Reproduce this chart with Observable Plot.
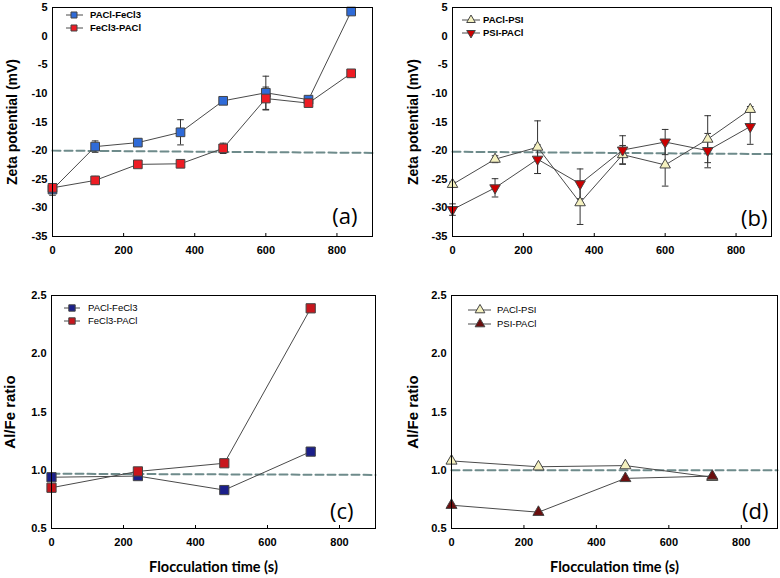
<!DOCTYPE html>
<html>
<head>
<meta charset="utf-8">
<script src="https://cdn.jsdelivr.net/npm/d3@7"></script>
<script src="https://cdn.jsdelivr.net/npm/@observablehq/plot@0.6"></script>
<style>
  html, body { margin: 0; padding: 0; background: #fff; }
  #root { position: relative; width: 780px; height: 578px; overflow: hidden; background: #fff; }
  .panel { position: absolute; }
  .legend { position: absolute; left: 0; top: 0; pointer-events: none; }
</style>
</head>
<body>
<div id="root"></div>
<script>
// ---------- data ----------
const zetaTime = [0, 120, 240, 360, 480, 600, 720, 840];
const zetaPaclFecl3 = [-26.8, -19.3, -18.6, -16.8, -11.3, -9.9, -11.1, 4.3];
const zetaPaclFecl3Err = [1.0, 1.0, 0.6, 2.2, 0.3, 2.9, 0.3, 0.3];
const zetaFecl3Pacl = [-26.5, -25.2, -22.4, -22.3, -19.6, -10.9, -11.7, -6.5];
const zetaFecl3PaclErr = [0.5, 0.7, 0.3, 0.3, 0.9, 2.0, 0.3, 0.3];

const zetaPaclPsi = [-25.9, -21.5, -19.4, -29.1, -20.7, -22.5, -18.0, -12.8];
const zetaPaclPsiErr = [0.4, 0.6, 4.6, 3.8, 1.6, 3.7, 4.1, 0.5];
const zetaPsiPacl = [-30.3, -26.5, -21.5, -25.8, -19.9, -18.5, -20.0, -15.8];
const zetaPsiPaclErr = [1.0, 1.6, 2.5, 2.6, 2.5, 2.2, 3.0, 3.1];

const ratioTime = [0, 240, 480, 720];
const ratioPaclFecl3 = [0.94, 0.95, 0.83, 1.16];
const ratioFecl3Pacl = [0.85, 0.99, 1.06, 2.39];
const ratioPaclPsi = [1.08, 1.03, 1.04, 0.94];
const ratioPsiPacl = [0.70, 0.64, 0.93, 0.95];

// reference (dashed) lines: [time, value] at both ends
const refA = [[0, -20.0], [900, -20.4]];
const refB = [[0, -20.2], [900, -20.6]];
const refC = [[0, 0.97], [900, 0.96]];
const refD = [[0, 1.0], [900, 1.0]];

const xTicks = [0, 200, 400, 600, 800];
const zetaTicks = [5, 0, -5, -10, -15, -20, -25, -30, -35];
const ratioTicks = [0.5, 1.0, 1.5, 2.0, 2.5];

// ---------- helpers ----------
const rows = (t, v, e) => t.map((x, i) => ({t: x, v: v[i], e: e ? e[i] : 0}));
const capSymbol = {
  draw(context, size) {
    const w = Math.sqrt(size / Math.PI);
    context.moveTo(-w, 0);
    context.lineTo(w, 0);
  }
};
const LINE = "#4a4a4a";
const DASH = "#6e8b8b";

function seriesMarks(data, {err = false}) {
  const marks = [];
  marks.push(Plot.line(data, {x: "t", y: "v", stroke: LINE, strokeWidth: 1}));
  if (err) {
    marks.push(Plot.ruleX(data, {x: "t", y1: d => d.v - d.e, y2: d => d.v + d.e, stroke: "#333", strokeWidth: 1}));
    marks.push(Plot.dot(data, {x: "t", y: d => d.v + d.e, symbol: capSymbol, r: 3.3, stroke: "#333", strokeWidth: 1}));
    marks.push(Plot.dot(data, {x: "t", y: d => d.v - d.e, symbol: capSymbol, r: 3.3, stroke: "#333", strokeWidth: 1}));
  }
  return marks;
}
function markerMarks(data, {symbol, r, fill, rotate = 0}) {
  return Plot.dot(data, {x: "t", y: "v", symbol, r, fill, stroke: "#444", strokeWidth: 1, rotate});
}

function panel({left, top, width, height, margins, yDomain, yTicks, yFormat, yLabel, yLabelDx, yLabelSize, xLabel, tag, tagDx, tagDy, ref, series, errors}) {
  const [mt, mr, mb, ml] = margins;
  const marks = [
    Plot.line(ref, {x: d => d[0], y: d => d[1], stroke: DASH, strokeWidth: 2, strokeDasharray: "8,4"}),
  ];
  for (const s of series) marks.push(...seriesMarks(s.data, {err: errors}));
  for (const s of series) marks.push(markerMarks(s.data, s));
  marks.push(
    Plot.frame({stroke: "#000", strokeWidth: 1}),
    Plot.axisX({ticks: xTicks, tickSize: -3, tickPadding: 13, tickFormat: d => String(d), label: null,
      fontSize: 11, fontWeight: "bold"}),
    Plot.axisY({ticks: yTicks, tickSize: 0, tickPadding: 5, tickFormat: yFormat, label: null,
      fontSize: 11, fontWeight: "bold"}),
    Plot.text([yLabel], {text: d => d, frameAnchor: "left", textAnchor: "middle", lineAnchor: "middle",
      dx: yLabelDx, rotate: -90, fontSize: yLabelSize, fontWeight: "bold", fill: "#000"}),
    Plot.text([tag], {text: d => d, frameAnchor: "bottom-right", textAnchor: "end", lineAnchor: "bottom",
      dx: tagDx, dy: tagDy, fontSize: 22, fontFamily: "Open Sans", fill: "#000"})
  );
  if (xLabel) {
    marks.push(Plot.text([xLabel], {text: d => d, frameAnchor: "bottom", lineAnchor: "middle", dy: 39,
      fontSize: 14.5, fontWeight: "bold", fontFamily: "Lato", fill: "#000"}));
  }
  const chart = Plot.plot({
    width, height,
    marginTop: mt, marginRight: mr, marginBottom: mb, marginLeft: ml,
    style: {fontFamily: "'Liberation Sans', Arial, sans-serif", color: "#000", background: "#fff", overflow: "visible"},
    x: {domain: [0, 900]},
    y: {domain: yDomain},
    marks
  });
  const div = document.createElement("div");
  div.className = "panel";
  div.style.left = left + "px";
  div.style.top = top + "px";
  div.appendChild(chart);
  document.getElementById("root").appendChild(div);
  return div;
}

// legend drawn as small inline svg overlay
function legend(items, {x0, x1, xm, ys, xt, size, bold, fontSize}) {
  const ns = "http://www.w3.org/2000/svg";
  const svg = document.createElementNS(ns, "svg");
  svg.setAttribute("class", "legend");
  svg.setAttribute("width", 780);
  svg.setAttribute("height", 578);
  svg.style.position = "absolute";
  items.forEach((it, i) => {
    const y = ys[i];
    const line = document.createElementNS(ns, "line");
    line.setAttribute("x1", x0); line.setAttribute("x2", x1);
    line.setAttribute("y1", y); line.setAttribute("y2", y);
    line.setAttribute("stroke", LINE); line.setAttribute("stroke-width", 1);
    svg.appendChild(line);
    const p = document.createElementNS(ns, "path");
    const sym = it.symbol === "square" ? d3.symbolSquare : d3.symbolTriangle;
    p.setAttribute("d", d3.symbol(sym, size * size * Math.PI)());
    p.setAttribute("transform", `translate(${xm},${y}) rotate(${it.rotate || 0})`);
    p.setAttribute("fill", it.fill); p.setAttribute("stroke", "#444"); p.setAttribute("stroke-width", 1);
    svg.appendChild(p);
    const t = document.createElementNS(ns, "text");
    t.setAttribute("x", xt); t.setAttribute("y", y);
    t.setAttribute("dy", "0.35em");
    t.setAttribute("font-family", "'Liberation Sans', Arial, sans-serif");
    t.setAttribute("font-size", fontSize);
    if (bold) t.setAttribute("font-weight", "bold");
    t.textContent = it.label;
    svg.appendChild(t);
  });
  document.getElementById("root").appendChild(svg);
}

// ---------- series definitions ----------
const sA = [
  {label: "PACl-FeCl3", data: rows(zetaTime, zetaPaclFecl3, zetaPaclFecl3Err), symbol: "square", r: 4.9, fill: "#2f6bd8"},
  {label: "FeCl3-PACl", data: rows(zetaTime, zetaFecl3Pacl, zetaFecl3PaclErr), symbol: "square", r: 4.9, fill: "#ee1c24"}
];
const sB = [
  {label: "PACl-PSI", data: rows(zetaTime, zetaPaclPsi, zetaPaclPsiErr), symbol: "triangle", r: 3.9, fill: "#f5f1bf"},
  {label: "PSI-PACl", data: rows(zetaTime, zetaPsiPacl, zetaPsiPaclErr), symbol: "triangle", r: 3.9, fill: "#cc0000", rotate: 180}
];
const sC = [
  {label: "PACl-FeCl3", data: rows(ratioTime, ratioPaclFecl3), symbol: "square", r: 5.2, fill: "#1b1f8a"},
  {label: "FeCl3-PACl", data: rows(ratioTime, ratioFecl3Pacl), symbol: "square", r: 5.2, fill: "#c8161d"}
];
const sD = [
  {label: "PACl-PSI", data: rows(ratioTime, ratioPaclPsi), symbol: "triangle", r: 4.1, fill: "#f5f1bf"},
  {label: "PSI-PACl", data: rows(ratioTime, ratioPsiPacl), symbol: "triangle", r: 4.1, fill: "#6b0e0e"}
];

panel({left: 0, top: 0, width: 390, height: 290, margins: [7, 18, 54, 52],
  yDomain: [-35, 5], yTicks: zetaTicks, yFormat: d => String(d), yLabel: "Zeta potential (mV)", yLabelDx: -40, yLabelSize: 14,
  tag: "(a)", tagDx: -15, tagDy: -13, ref: refA, series: sA, errors: true});
panel({left: 390, top: 0, width: 390, height: 290, margins: [7, 9, 54, 62],
  yDomain: [-35, 5], yTicks: zetaTicks, yFormat: d => String(d), yLabel: "Zeta potential (mV)", yLabelDx: -39, yLabelSize: 14,
  tag: "(b)", tagDx: -4, tagDy: -11, ref: refB, series: sB, errors: true});
panel({left: 0, top: 290, width: 390, height: 288, margins: [5, 15, 50, 51],
  yDomain: [0.5, 2.5], yTicks: ratioTicks, yFormat: d3.format(".1f"), yLabel: "Al/Fe ratio", yLabelDx: -41, yLabelSize: 15,
  xLabel: "Flocculation time (s)", tag: "(c)", tagDx: -22, tagDy: -10, ref: refC, series: sC, errors: false});
panel({left: 390, top: 290, width: 390, height: 288, margins: [5, 3, 50, 61],
  yDomain: [0.5, 2.5], yTicks: ratioTicks, yFormat: d3.format(".1f"), yLabel: "Al/Fe ratio", yLabelDx: -38, yLabelSize: 15,
  xLabel: "Flocculation time (s)", tag: "(d)", tagDx: -9, tagDy: -10, ref: refD, series: sD, errors: false});

legend(sA, {x0: 66, x1: 83, xm: 74, ys: [15, 28], xt: 90, size: 3.4, bold: true, fontSize: 9.5});
legend(sB, {x0: 462, x1: 480, xm: 471, ys: [20, 33], xt: 483, size: 3.2, bold: true, fontSize: 9.5});
legend(sC, {x0: 64, x1: 80, xm: 72, ys: [308, 321], xt: 88, size: 3.6, bold: false, fontSize: 9.5});
legend(sD, {x0: 468, x1: 491, xm: 480, ys: [310, 324], xt: 497, size: 3.6, bold: false, fontSize: 9.5});
</script>
</body>
</html>
